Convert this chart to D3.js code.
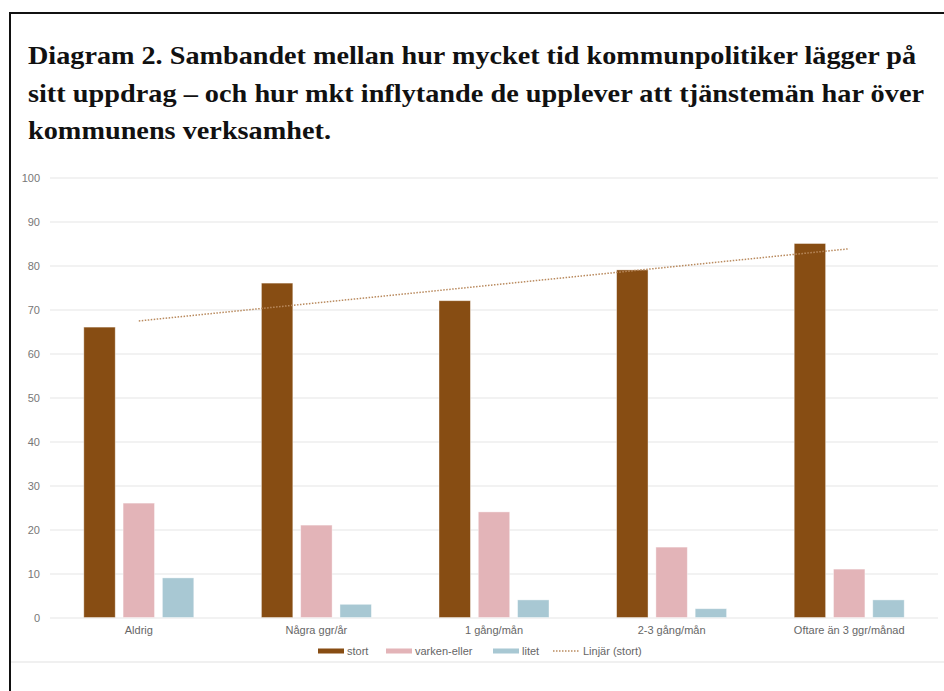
<!DOCTYPE html>
<html>
<head>
<meta charset="utf-8">
<script src="https://cdn.jsdelivr.net/npm/d3@7"></script>
<style>
  body { margin: 0; background: #fff; }
  svg text { font-family: "Liberation Sans", Arial, sans-serif; }
</style>
</head>
<body>
<svg id="chart"></svg>
<script>
// data
const categories = ["Aldrig", "Några ggr/år", "1 gång/mån", "2-3 gång/mån", "Oftare än 3 ggr/månad"];
const seriesNames = ["stort", "varken-eller", "litet"];
const stort = [66, 76, 72, 79, 85];
const varkenEller = [26, 21, 24, 16, 11];
const litet = [9, 3, 4, 2, 4];
const yTicks = [0, 10, 20, 30, 40, 50, 60, 70, 80, 90, 100];
const titleLines = [
  "Diagram 2. Sambandet mellan hur mycket tid kommunpolitiker lägger på",
  "sitt uppdrag – och hur mkt inflytande de upplever att tjänstemän har över",
  "kommunens verksamhet."
];
const titleWidths = [888, 896, 303];

const colors = ["#874d13", "#e3b4b8", "#a8c8d3"];
const trendColor = "#b98a5e";

const width = 944, height = 691;
const svg = d3.select("#chart").attr("width", width).attr("height", height);

// frame
svg.append("path")
  .attr("d", `M${width + 5},13 H10 V${height + 5}`)
  .attr("fill", "none")
  .attr("stroke", "#111")
  .attr("stroke-width", 2);

svg.append("line")
  .attr("x1", 11).attr("x2", width)
  .attr("y1", 662).attr("y2", 662)
  .attr("stroke", "#e2e2e2").attr("stroke-width", 1.2);

// title
svg.append("g").selectAll("text")
  .data(titleLines)
  .join("text")
    .attr("x", 28)
    .attr("y", (d, i) => 64 + i * 37.5)
    .attr("textLength", (d, i) => titleWidths[i])
    .attr("lengthAdjust", "spacingAndGlyphs")
    .style("font-family", '"Liberation Serif", "DejaVu Serif", serif')
    .style("font-weight", "bold")
    .style("font-size", "25px")
    .attr("fill", "#111")
    .text(d => d);

const margin = { left: 50, right: 6, top: 177.5, bottom: 73.5 };
const innerW = width - margin.left - margin.right;
const innerH = height - margin.top - margin.bottom;

const vp = svg.append("g").attr("transform", `translate(${margin.left},${margin.top})`);

const x0 = d3.scaleBand().domain(categories).range([0, innerW]).paddingInner(0).paddingOuter(0);
const x1 = d3.scaleBand().domain(seriesNames).range([x0.bandwidth() / 2 - 55, x0.bandwidth() / 2 + 55]).paddingInner(0.2);
const y = d3.scaleLinear().domain([0, 100]).range([innerH, 0]);

// grid + y axis
const yAxis = d3.axisLeft(y).tickValues(yTicks).tickSize(-innerW).tickPadding(10);
vp.append("g").call(yAxis)
  .call(g => g.select(".domain").remove())
  .call(g => g.selectAll("line").attr("stroke", "#e6e6e6").attr("stroke-width", 1.2))
  .call(g => g.selectAll("text").attr("fill", "#777").style("font-size", "11px").attr("x", -10));

// x axis labels
const xAxis = d3.axisBottom(x0).tickSize(0).tickPadding(9);
vp.append("g").attr("transform", `translate(0,${innerH})`).call(xAxis)
  .call(g => g.select(".domain").remove())
  .call(g => g.selectAll("text").attr("fill", "#666").style("font-size", "11px"));

const rows = categories.map((c, i) => ({ cat: c, values: [stort[i], varkenEller[i], litet[i]] }));

vp.append("g").selectAll("g")
  .data(rows)
  .join("g")
    .attr("transform", d => `translate(${x0(d.cat)},0)`)
  .selectAll("rect")
  .data(d => d.values.map((v, j) => ({ key: seriesNames[j], v, j })))
  .join("rect")
    .attr("x", d => x1(d.key))
    .attr("y", d => y(d.v))
    .attr("width", x1.bandwidth())
    .attr("height", d => y(0) - y(d.v))
    .attr("fill", d => colors[d.j])
    .attr("stroke", "#fff")
    .attr("stroke-opacity", 0.5)
    .attr("stroke-width", 0.8);

// linear trendline for "stort"
const xs = stort.map((d, i) => i + 1);
const mx = d3.mean(xs), my = d3.mean(stort);
const slope = d3.sum(xs, (xv, i) => (xv - mx) * (stort[i] - my)) / d3.sum(xs, xv => (xv - mx) ** 2);
const icpt = my - slope * mx;
const trend = categories.map((c, i) => ({ cat: c, v: icpt + slope * (i + 1) }));

vp.append("path")
  .datum(trend)
  .attr("fill", "none")
  .attr("stroke", trendColor)
  .attr("stroke-width", 1.5)
  .attr("stroke-dasharray", "1.5,1.5")
  .attr("d", d3.line().x(d => x0(d.cat) + x0.bandwidth() / 2).y(d => y(d.v)));

// legend
const legendItems = [
  { label: "stort", color: colors[0], x: 318, type: "bar" },
  { label: "varken-eller", color: colors[1], x: 386, type: "bar" },
  { label: "litet", color: colors[2], x: 493, type: "bar" },
  { label: "Linjär (stort)", color: trendColor, x: 553, type: "line" }
];
const lg = svg.append("g").attr("transform", "translate(0,651)");
const li = lg.selectAll("g").data(legendItems).join("g")
  .attr("transform", d => `translate(${d.x},0)`);
li.filter(d => d.type === "bar").append("rect")
  .attr("x", 0).attr("y", -2.5).attr("width", 26).attr("height", 5)
  .attr("fill", d => d.color);
li.filter(d => d.type === "line").append("line")
  .attr("x1", 0).attr("x2", 27).attr("y1", 0).attr("y2", 0)
  .attr("stroke", d => d.color).attr("stroke-width", 1.5).attr("stroke-dasharray", "1.5,1.5");
li.append("text")
  .attr("x", d => d.type === "line" ? 30 : 29)
  .attr("y", 4)
  .attr("fill", "#666")
  .style("font-size", "11px")
  .text(d => d.label);
</script>
</body>
</html>
